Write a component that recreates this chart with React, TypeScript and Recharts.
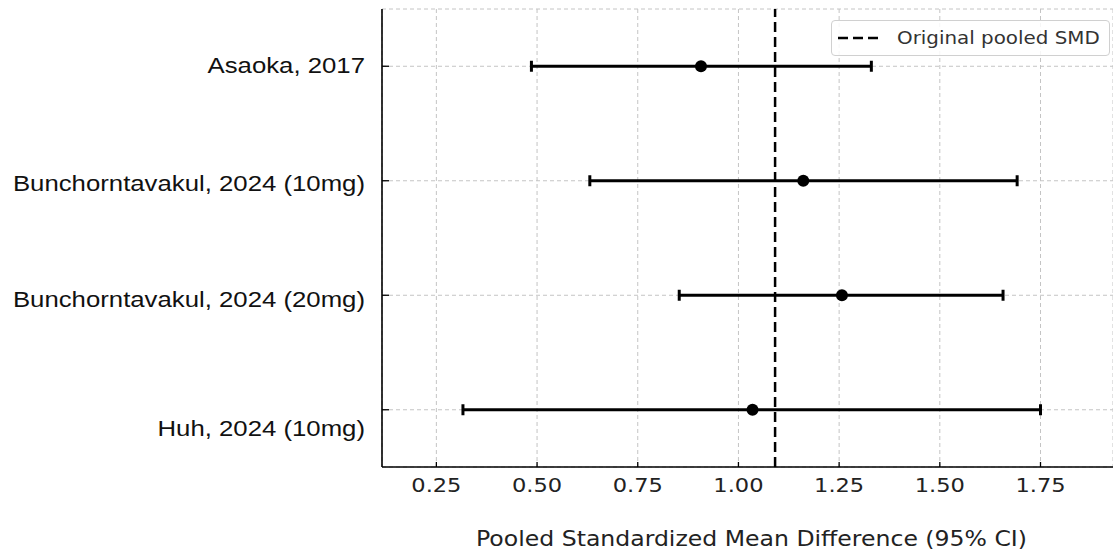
import {
  ScatterChart,
  Scatter,
  XAxis,
  YAxis,
  CartesianGrid,
  ReferenceLine,
  ErrorBar,
  Legend,
  Label,
} from 'recharts';

const studies = [
  'Asaoka, 2017',
  'Bunchorntavakul, 2024 (10mg)',
  'Bunchorntavakul, 2024 (20mg)',
  'Huh, 2024 (10mg)',
];
const smd = [0.907, 1.161, 1.257, 1.035];
const ciLow = [0.486, 0.631, 0.853, 0.316];
const ciHigh = [1.33, 1.692, 1.657, 1.75];
const pooledSmd = 1.091;
const xTicks = [0.25, 0.5, 0.75, 1.0, 1.25, 1.5, 1.75];
const rowTicks = [0, 1, 2, 3];
const legendLabel = 'Original pooled SMD';
const xTitle = 'Pooled Standardized Mean Difference (95% CI)';

// the source image is a bit stretched sideways, so the text is too
const STRETCH = 1.15;
const labelShift = [-1, 2, 4, 18];

const rows = studies.map((name, i) => ({
  row: i,
  name,
  smd: smd[i],
  err: [smd[i] - ciLow[i], ciHigh[i] - smd[i]],
}));

function StudyTick(props: any) {
  const { x, y, payload } = props;
  const i = payload.value as number;
  const axisX = x + 17;
  return (
    <g>
      <line x1={axisX} x2={axisX + 7} y1={y} y2={y} stroke="#000" strokeWidth={1.3} />
      <text
        transform={`translate(${x},${y + (labelShift[i] || 0)}) scale(${STRETCH},1)`}
        textAnchor="end"
        dominantBaseline="central"
        fontFamily="'Liberation Sans', Arial, sans-serif"
        fontSize={22.4}
        fill="#111"
      >
        {studies[i]}
      </text>
    </g>
  );
}

function ValueTick(props: any) {
  const { x, y, payload } = props;
  const axisY = y - 10;
  return (
    <g>
      <line x1={x} x2={x} y1={axisY} y2={axisY - 5} stroke="#000" strokeWidth={1.3} />
      <text
        transform={`translate(${x},${y + 14.5}) scale(${STRETCH},1)`}
        textAnchor="middle"
        fontFamily="'DejaVu Sans', sans-serif"
        fontSize={19.6}
        fill="#222"
      >
        {Number(payload.value).toFixed(2)}
      </text>
    </g>
  );
}

function XTitle(props: any) {
  const vb = props.viewBox || { x: 382, y: 467, width: 731, height: 87 };
  const cx = vb.x + vb.width / 2 + 4;
  return (
    <text
      transform={`translate(${cx},${vb.y + 79}) scale(${STRETCH},1)`}
      textAnchor="middle"
      fontFamily="'DejaVu Sans', sans-serif"
      fontSize={20.5}
      fill="#222"
    >
      {xTitle}
    </text>
  );
}

function LegendBox() {
  return (
    <div
      style={{
        position: 'relative',
        boxSizing: 'border-box',
        width: 279,
        height: 36,
        border: '1px solid #d0d0d0',
        borderRadius: 4,
        background: 'rgba(255,255,255,0.85)',
      }}
    >
      <svg width={44} height={6} style={{ position: 'absolute', left: 6, top: 14 }}>
        <line x1={0} x2={44} y1={3} y2={3} stroke="#000" strokeWidth={2.5} strokeDasharray="10 5" />
      </svg>
      <span
        style={{
          position: 'absolute',
          left: 65,
          top: 0,
          lineHeight: '34px',
          fontFamily: "'DejaVu Sans', sans-serif",
          fontSize: 17.3,
          color: '#333',
          whiteSpace: 'nowrap',
          transform: `scaleX(${STRETCH})`,
          transformOrigin: 'left center',
        }}
      >
        {legendLabel}
      </span>
    </div>
  );
}

export default function App() {
  return (
    <div style={{ position: 'absolute', left: 0, top: 0, width: 1113, height: 554, background: '#fff', overflow: 'hidden' }}>
      <ScatterChart width={1113} height={554} margin={{ top: 9, right: 0, left: 0, bottom: 0 }}>
        <CartesianGrid stroke="#c4c4c4" strokeDasharray="4 3" strokeWidth={1} />
        <XAxis
          type="number"
          dataKey="smd"
          domain={[0.115, 1.93]}
          ticks={xTicks}
          allowDataOverflow
          height={87}
          tickSize={0}
          tickMargin={10}
          tickLine={false}
          axisLine={{ stroke: '#000', strokeWidth: 1.6 }}
          tick={<ValueTick />}
        >
          <Label content={<XTitle />} />
        </XAxis>
        <YAxis
          type="number"
          dataKey="row"
          domain={[-0.5, 3.5]}
          ticks={rowTicks}
          reversed
          allowDataOverflow
          width={382}
          tickSize={0}
          tickMargin={17}
          tickLine={false}
          axisLine={{ stroke: '#000', strokeWidth: 1.6 }}
          tick={<StudyTick />}
        />
        <ReferenceLine x={pooledSmd} stroke="#000" strokeWidth={2.5} strokeDasharray="10 5" />
        <Scatter
          data={rows}
          dataKey="smd"
          fill="#000"
          isAnimationActive={false}
          shape={(p: any) => <circle cx={p.cx} cy={p.cy} r={6} fill="#000" />}
        >
          <ErrorBar dataKey="err" direction="x" width={5.5} strokeWidth={3} stroke="#000" />
        </Scatter>
        <Legend
          layout="horizontal"
          verticalAlign="middle"
          align="center"
          wrapperStyle={{ top: 20, left: 831, width: 279, height: 36 }}
          content={() => <LegendBox />}
        />
      </ScatterChart>
    </div>
  );
}
